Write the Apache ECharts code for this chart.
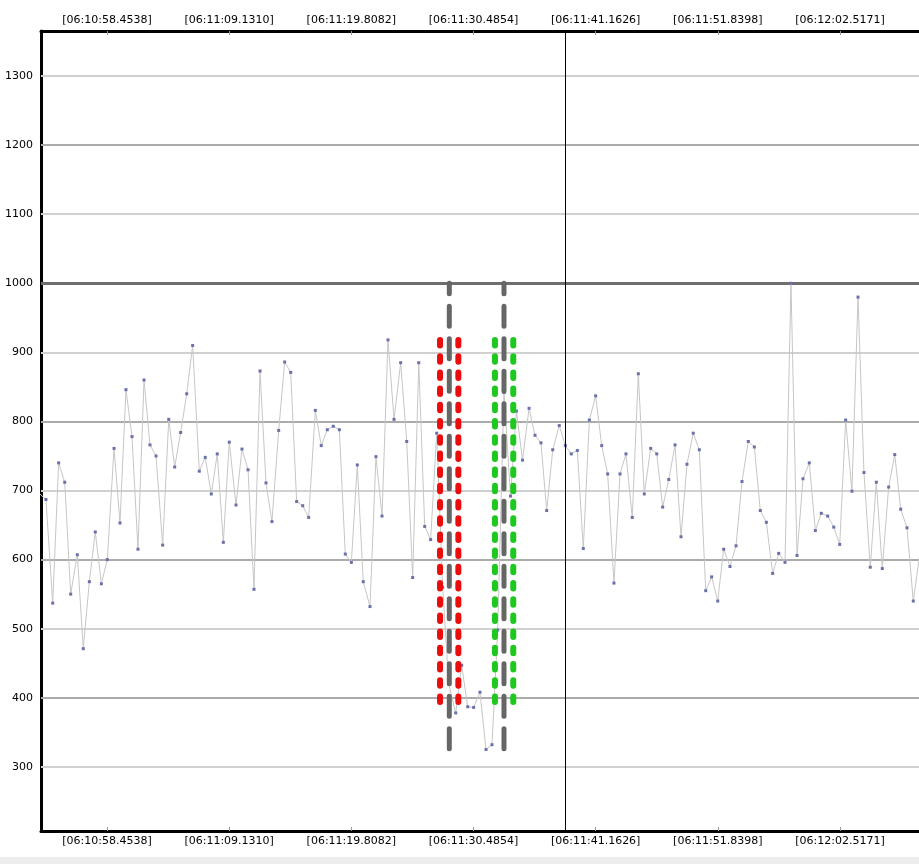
<!DOCTYPE html>
<html><head><meta charset="utf-8">
<script src="https://cdn.jsdelivr.net/npm/echarts@6/dist/echarts.min.js"></script>
<style>html,body{margin:0;padding:0;background:#fff}#c{width:919px;height:864px}</style>
</head><body><div id="c"></div>
<script>
// time of each sample, seconds after 06:10:00
const times = [52.59,53.12,53.71,54.23,54.76,55.28,55.86,56.38,56.91,57.43,57.96,58.48,59.07,59.59,60.11,60.64,61.16,61.69,62.21,62.74,63.32,63.85,64.37,64.89,65.42,65.94,66.52,67.04,67.57,68.09,68.62,69.14,69.73,
70.25,70.78,71.30,71.83,72.35,72.87,73.46,73.98,74.51,75.03,75.56,76.08,76.66,77.18,77.71,78.23,78.76,79.28,79.81,80.33,80.85,81.44,81.96,82.49,83.01,83.54,84.12,84.65,85.17,85.70,86.22,86.74,
87.27,87.79,88.32,88.93,89.45,89.98,90.50,91.05,91.58,92.10,92.60,93.15,93.72,94.24,94.77,95.34,95.86,96.38,96.88,97.41,97.98,98.51,99.03,99.56,100.08,100.61,101.16,101.69,102.21,102.76,103.29,103.81,
104.36,104.89,105.41,105.97,106.50,107.02,107.55,108.10,108.62,109.14,109.69,110.22,110.78,111.30,111.83,112.35,112.90,113.43,113.95,114.50,115.03,115.55,116.08,116.63,117.16,117.71,118.23,118.76,119.28,
119.83,120.36,120.88,121.44,121.97,122.49,123.01,123.56,124.09,124.61,125.16,125.69,126.21,126.77,127.30,127.82,128.37,128.92,129.46];
const values = [695,687,537,740,712,550,607,471,568,640,565,600,761,653,846,778,615,860,766,750,621,803,734,784,840,910,728,748,695,753,625,770,679,
760,730,557,873,711,655,787,886,871,684,678,661,816,765,788,793,788,608,596,737,568,532,749,663,918,803,885,771,574,885,648,629,
783,560,420,378,447,387,386,408,325,332,498,842,692,815,744,819,780,769,671,759,794,765,753,758,616,802,837,765,724,566,724,753,
661,869,695,761,753,676,716,766,633,738,783,759,555,575,540,615,590,620,713,771,763,671,654,580,609,596,1000,606,717,
740,642,667,663,647,622,802,699,980,726,589,712,587,705,752,673,646,540,605];

const tickTimes = [58.4538, 69.1310, 79.8082, 90.4854, 101.1626, 111.8398, 122.5171];
const tickLabels = ['[06:10:58.4538]','[06:11:09.1310]','[06:11:19.8082]','[06:11:30.4854]','[06:11:41.1626]','[06:11:51.8398]','[06:12:02.5171]'];
const yTicks = [300,400,500,600,700,800,900,1000,1100,1200,1300];
const xRange = [52.686, 129.42];
const yRange = [207.1, 1365.2];
const cursorTime = 98.53;
const grayMarkerTimes = [88.37, 93.15];
const grayMarkerRange = [326, 1000];
const redMarkerTimes = [87.56, 89.16];
const greenMarkerTimes = [92.36, 93.96];
const bandRange = [394, 921];

const FONT = 'DejaVu Sans';
function labelFor(v){
  let best = 0, d = Infinity;
  tickTimes.forEach((t,i)=>{ const dd=Math.abs(t-v); if(dd<d){d=dd;best=i;} });
  return tickLabels[best];
}
function xAx(pos){
  return {type:'value', position:pos, min:xRange[0], max:xRange[1],
    axisLine:{show:true, onZero:false, lineStyle:{color:'#000', width:3}},
    axisTick:{show:true, inside:true, length:4, customValues:tickTimes, lineStyle:{color:'#9a9a9a', width:1}},
    axisLabel:{show:true, customValues:tickTimes, formatter:labelFor, fontFamily:FONT, fontSize:11, color:'#000', margin:5},
    splitLine:{show:false}};
}
function gridColor(v){ return v===1000 ? '#6e6e6e' : (v%200===0 ? '#ababab' : '#d0d0d0'); }

const series = [];
// gridlines
series.push({type:'line', data:[[xRange[0], yRange[0]]], symbol:'none', lineStyle:{opacity:0}, silent:true, z:1,
  markLine:{silent:true, z:1, symbol:['none','none'], label:{show:false}, animation:false,
    data: yTicks.map(v=>({yAxis:v, lineStyle:{color:gridColor(v), width:v===1000?3:2, type:'solid'}}))}});
// data
series.push({type:'line', data:times.map((t,i)=>[t, values[i]]), z:3,
  lineStyle:{color:'#c6c6c6', width:1}, symbol:'rect', symbolSize:3, showSymbol:true,
  itemStyle:{color:'#6a70aa'},
  markLine:{silent:true, z:8, symbol:['none','none'], label:{show:false}, animation:false,
    data:[{xAxis:cursorTime, lineStyle:{color:'#000', width:1, type:'solid'}}]}});
function col(t, range, color, width, dash){
  series.push({type:'line', data:[[t, range[0]],[t, range[1]]], symbol:'none', z:5, silent:true,
    lineStyle:{color:color, width:width, type:dash, cap:'round'}});
}
redMarkerTimes.forEach(t=>col(t, bandRange, '#ec0c0c', 6, [5.5, 10.7]));
greenMarkerTimes.forEach(t=>col(t, bandRange, '#1ec81e', 6, [5.5, 10.7]));
grayMarkerTimes.forEach(t=>col(t, grayMarkerRange, '#666666', 5, [20, 12.5]));

const chart = echarts.init(document.getElementById('c'), null, {renderer:'canvas'});
chart.setOption({
  animation:false,
  backgroundColor:'#ffffff',
  grid:{left:41, top:31, right:0, bottom:33, containLabel:false},
  xAxis:[xAx('bottom'), xAx('top')],
  yAxis:{type:'value', min:yRange[0], max:yRange[1],
    axisLine:{show:true, onZero:false, lineStyle:{color:'#000', width:3}},
    axisTick:{show:false},
    axisLabel:{show:true, customValues:yTicks, formatter:v=>String(Math.round(v)), fontFamily:FONT, fontSize:11, color:'#000', margin:8},
    splitLine:{show:false}},
  graphic:[{type:'rect', shape:{x:0, y:857, width:919, height:7}, style:{fill:'#ededed'}, silent:true}],
  series: series
});
</script></body></html>
